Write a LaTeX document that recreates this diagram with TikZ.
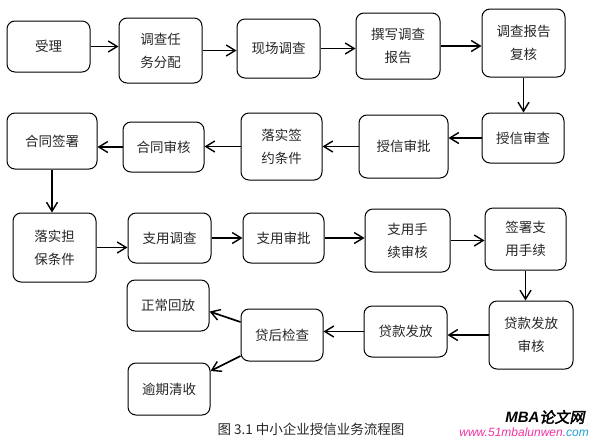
\documentclass[tikz,border=0pt]{standalone}
\usepackage{fontspec}
\setmainfont{Noto Sans CJK SC}
\newfontfamily\wmcjk{Noto Sans CJK SC}[FakeBold=2.5,FakeSlant=0.2]
\newfontfamily\wmlatin{Liberation Sans}
\usetikzlibrary{arrows.meta}

\begin{document}
\begin{tikzpicture}[x=1pt, y=-1pt,
    box/.style={draw, rounded corners=8pt, line width=1pt, align=center, inner sep=0pt,
        text=black!85, font=\fontsize{13.5pt}{23pt}\selectfont},
    wh/.style 2 args={minimum width=#1pt, minimum height=#2pt},
    arr/.style={-{Straight Barb[length=9pt,width=11pt,line width=1.4pt]}, line width=1.7pt}]
    \useasboundingbox (0,0) rectangle (591,440);

    % Row 1
    \node[box, wh={83}{51}] (shouli)   at (48.5,46.5) {受理};
    \node[box, wh={83}{65}] (renwu)    at (160.5,50.5) {调查任\\务分配};
    \node[box, wh={83}{59}] (xianchang) at (278.5,48.5) {现场调查};
    \node[box, wh={84}{66}] (zhuanxie) at (398,46) {撰写调查\\报告};
    \node[box, wh={83}{68}] (fuhe)     at (523.5,43) {调查报告\\复核};

    % Row 2
    \node[box, wh={82}{50}] (shencha)  at (523,138) {授信审查};
    \node[box, wh={89}{63}] (shenpi)   at (403.5,146.5) {授信审批};
    \node[box, wh={81}{67}] (qianyue)  at (281.5,146.5) {落实签\\约条件};
    \node[box, wh={81}{50}] (htshenhe) at (163.5,147) {合同审核};
    \node[box, wh={90}{56}] (htqianshu) at (52,141) {合同签署};

    % Row 3
    \node[box, wh={83}{69}] (danbao)   at (54.5,247.5) {落实担\\保条件};
    \node[box, wh={83}{50}] (zydiaocha) at (169.5,238) {支用调查};
    \node[box, wh={81}{50}] (zyshenpi) at (283.5,238) {支用审批};
    \node[box, wh={85}{63}] (sxshenhe) at (407.5,240.5) {支用手\\续审核};
    \node[box, wh={81}{62}] (qszhiyong) at (525.5,239) {签署支\\用手续};

    % Row 4
    \node[box, wh={84}{68}] (ffshenhe) at (531,335) {贷款发放\\审核};
    \node[box, wh={83}{51}] (fafang)   at (405.5,331.5) {贷款发放};
    \node[box, wh={82}{52}] (jiancha)  at (282,335) {贷后检查};
    \node[box, wh={82}{51}] (huifang)  at (168,305.5) {正常回放};
    \node[box, wh={82}{52}] (qingshou) at (169,389) {逾期清收};

    % Arrows
    \draw[arr] (shouli.east) -- (shouli.east -| renwu.west);
    \draw[arr] (renwu.east) -- (renwu.east -| xianchang.west);
    \draw[arr] (xianchang.east) -- (xianchang.east -| zhuanxie.west);
    \draw[arr] (zhuanxie.east) -- (zhuanxie.east -| fuhe.west);
    \draw[arr] (fuhe.south) -- (fuhe.south |- shencha.north);
    \draw[arr] (shencha.west) -- (shencha.west -| shenpi.east);
    \draw[arr] (shenpi.west) -- (shenpi.west -| qianyue.east);
    \draw[arr] (qianyue.west) -- (qianyue.west -| htshenhe.east);
    \draw[arr] (htshenhe.west) -- (htshenhe.west -| htqianshu.east);
    \draw[arr] (htqianshu.south) -- (htqianshu.south |- danbao.north);
    \draw[arr] (danbao.east) -- (danbao.east -| zydiaocha.west);
    \draw[arr] (zydiaocha.east) -- (zydiaocha.east -| zyshenpi.west);
    \draw[arr] (zyshenpi.east) -- (zyshenpi.east -| sxshenhe.west);
    \draw[arr] (sxshenhe.east) -- (sxshenhe.east -| qszhiyong.west);
    \draw[arr] (qszhiyong.south) -- (qszhiyong.south |- ffshenhe.north);
    \draw[arr] (ffshenhe.west) -- (ffshenhe.west -| fafang.east);
    \draw[arr] (fafang.west) -- (fafang.west -| jiancha.east);
    \draw[arr] ([yshift=13pt]jiancha.west) -- ([yshift=-6pt]huifang.east);
    \draw[arr] ([yshift=-21pt]jiancha.west) -- ([yshift=18pt]qingshou.east);

    % Caption and watermark
    \node[font=\fontsize{13.5pt}{15pt}\selectfont, text=black!85] (caption) at (311,429) {图 3.1 中小企业授信业务流程图};
    \node[font=\fontsize{15pt}{17pt}\selectfont, anchor=east] (wmtitle) at (588,417)
        {{\wmlatin\bfseries\itshape MBA}{\wmcjk 论文网}};
    \node[font=\wmlatin\itshape\fontsize{12pt}{14pt}\selectfont, anchor=east, inner sep=1pt] (wmurl) at (590,432)
        {\textcolor{magenta!80}{www.51mbalunwen.}\textcolor{cyan!70!teal}{com}};
\end{tikzpicture}
\end{document}
